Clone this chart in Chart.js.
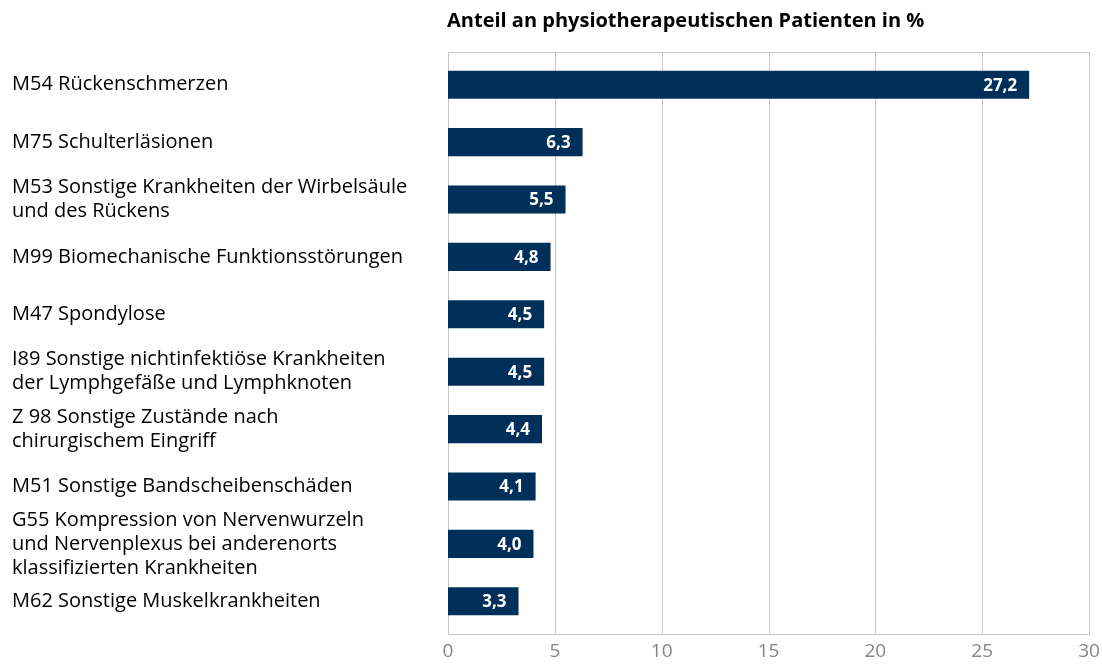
<!DOCTYPE html>
<html><head><meta charset="utf-8">
<script src="https://cdn.jsdelivr.net/npm/chart.js@4.4.0/dist/chart.umd.min.js"></script>
<style>html,body{margin:0;padding:0;background:#fff}#wrap{width:1102px;height:664px}</style>
</head><body><div id="wrap"><canvas id="c" width="1102" height="664"></canvas></div>
<script>
const categories = [
  ["M54 Rückenschmerzen"],
  ["M75 Schulterläsionen"],
  ["M53 Sonstige Krankheiten der Wirbelsäule", "und des Rückens"],
  ["M99 Biomechanische Funktionsstörungen"],
  ["M47 Spondylose"],
  ["I89 Sonstige nichtinfektiöse Krankheiten", "der Lymphgefäße und Lymphknoten"],
  ["Z 98 Sonstige Zustände nach", "chirurgischem Eingriff"],
  ["M51 Sonstige Bandscheibenschäden"],
  ["G55 Kompression von Nervenwurzeln", "und Nervenplexus bei anderenorts", "klassifizierten Krankheiten"],
  ["M62 Sonstige Muskelkrankheiten"]
];
const shares = [27.2, 6.3, 5.5, 4.8, 4.5, 4.5, 4.4, 4.1, 4.0, 3.3];
const xTicks = [0, 5, 10, 15, 20, 25, 30];
const chartTitle = "Anteil an physiotherapeutischen Patienten in %";

const FONT = "'Open Sans', 'DejaVu Sans', sans-serif";
const BAR = "#00305a";
const GRID = "#c6c6c6";
const EXT_TOP = 4, EXT_BOTTOM = 5;

const extras = {
  id: 'extras',
  beforeDatasetsDraw(chart) {
    const ctx = chart.ctx, a = chart.chartArea, xs = chart.scales.x;
    const top = a.top - EXT_TOP, bottom = a.bottom + EXT_BOTTOM;
    ctx.save();
    ctx.strokeStyle = GRID; ctx.lineWidth = 1;
    ctx.beginPath();
    xTicks.forEach(v => {
      const px = Math.round(xs.getPixelForValue(v)) + 0.5;
      ctx.moveTo(px, top); ctx.lineTo(px, bottom);
    });
    ctx.moveTo(a.left, top + 0.5); ctx.lineTo(a.right + 1, top + 0.5);
    ctx.moveTo(a.left, bottom - 0.5); ctx.lineTo(a.right + 1, bottom - 0.5);
    ctx.stroke();
    ctx.restore();
  },
  afterDatasetsDraw(chart) {
    const ctx = chart.ctx, a = chart.chartArea;
    ctx.save();
    ctx.fillStyle = "#000"; ctx.font = "bold 20px " + FONT;
    ctx.textAlign = "left"; ctx.textBaseline = "middle";
    ctx.fillText(chartTitle, a.left - 1, 21);
    const meta = chart.getDatasetMeta(0);
    ctx.fillStyle = "#fff"; ctx.font = "bold 17px " + FONT;
    ctx.textAlign = "right";
    meta.data.forEach((el, i) => {
      ctx.fillText(shares[i].toFixed(1).replace('.', ','), el.x - 12, el.y + 1);
    });
    ctx.restore();
  }
};

new Chart(document.getElementById('c'), {
  type: 'bar',
  data: {
    labels: categories,
    datasets: [{ data: shares, backgroundColor: BAR, barPercentage: 0.49, categoryPercentage: 1.0 }]
  },
  options: {
    indexAxis: 'y',
    responsive: false,
    animation: false,
    layout: { padding: { left: 12, right: 13, top: 56, bottom: 0 } },
    plugins: { legend: { display: false }, tooltip: { enabled: false }, title: { display: false } },
    scales: {
      x: {
        min: 0, max: 30,
        afterBuildTicks(s) { s.ticks = xTicks.map(v => ({ value: v })); },
        afterFit(s) { s.height = 34; s.paddingLeft = 0; s.paddingRight = 0; },
        grid: { display: false, drawTicks: false },
        border: { display: false },
        ticks: { color: "#858585", font: { family: FONT, size: 19 }, padding: 10 }
      },
      y: {
        afterFit(s) { s.width = 436; },
        grid: { display: false, drawTicks: false },
        border: { display: false },
        ticks: { autoSkip: false, crossAlign: 'far', color: "#000", font: { family: FONT, size: 20, lineHeight: 1.2 }, padding: 0 }
      }
    }
  },
  plugins: [extras]
});
</script></body></html>
